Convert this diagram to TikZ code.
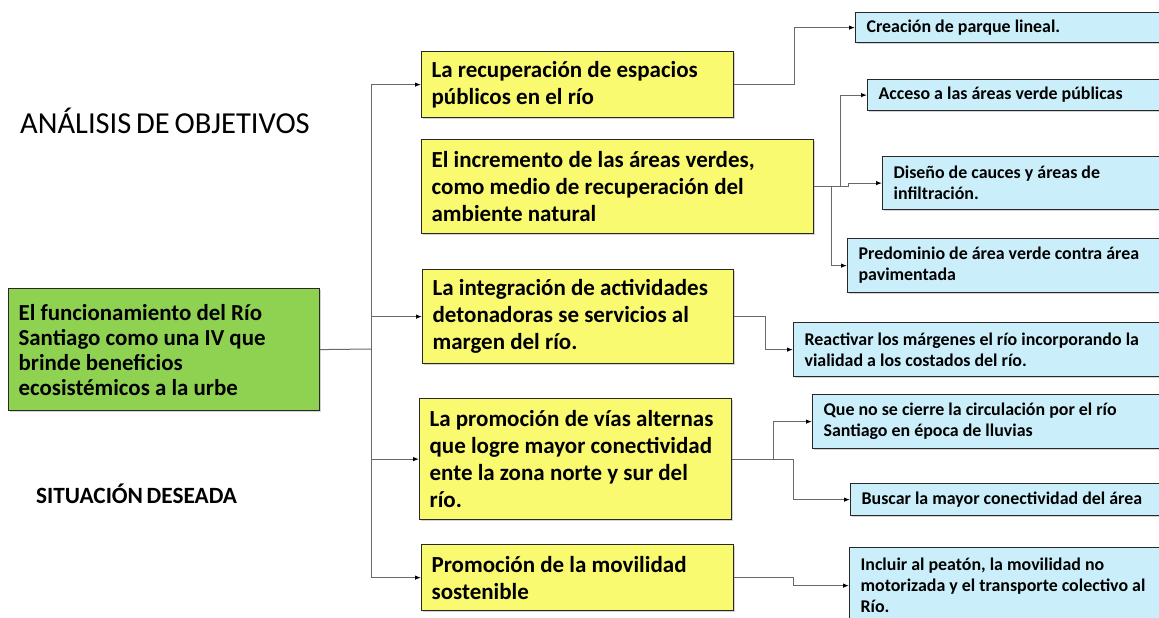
\documentclass[tikz,border=0pt]{standalone}
\usepackage{fontspec}
\setmainfont{Carlito}[WordSpace=0.7]
\usetikzlibrary{arrows.meta,shadows}
\definecolor{ylw}{RGB}{250,250,112}
\definecolor{grn}{RGB}{143,209,80}
\definecolor{blu}{RGB}{203,239,250}
\definecolor{conn}{RGB}{105,105,105}
\definecolor{edge}{RGB}{40,40,40}
\newcommand\myyfont{\bfseries\fontsize{23}{27}\selectfont}
\newcommand\mygfont{\bfseries\fontsize{22.9}{25}\selectfont}
\newcommand\mybfont{\bfseries\fontsize{17.9}{21}\selectfont}
\tikzset{
  box/.style={draw=edge, line width=1.2pt, anchor=north west, inner xsep=10pt, inner ysep=0pt,
    align=left, drop shadow={opacity=0.35, shadow xshift=1.5pt, shadow yshift=-1.5pt},
    execute at begin node={\spaceskip=0.226em plus 0.05em minus 0.03em\relax\hyphenpenalty=10000\relax}},
  ybox/.style={box, fill=ylw, font=\myyfont},
  gbox/.style={box, fill=grn, font=\mygfont},
  bbox/.style={box, fill=blu, inner xsep=11pt, font=\mybfont},
  conline/.style={draw=conn, line width=1pt},
  arr/.style={conline, -{Latex[length=6pt,width=4.5pt,color=black]}}
}
\begin{document}
\begin{tikzpicture}[x=1pt,y=-1pt]
\useasboundingbox (0,0) rectangle (1159,618);
\clip (0,0) rectangle (1159,618);
% titles
\node[anchor=base west, inner sep=0pt, font=\fontsize{30.5}{34}\selectfont] (title) at (20,133) {ANÁLISIS DE OBJETIVOS};
\node[anchor=base west, inner sep=0pt, font=\bfseries\fontsize{23.3}{26}\selectfont] (sit) at (36,503) {SITUACIÓN DESEADA};
% root
\node[gbox, minimum width=311pt, minimum height=122pt, text width=291pt] (G) at (8,288)
  {El funcionamiento del Río\\Santiago como una IV que\\brinde beneficios\\ecosistémicos a la urbe};
% objectives
\node[ybox, minimum width=312pt, minimum height=66pt, text width=292pt] (Y1) at (421,51)
  {La recuperación de espacios\\públicos en el río};
\node[ybox, minimum width=392pt, minimum height=94pt, text width=372pt] (Y2) at (421,139)
  {El incremento de las áreas verdes,\\como medio de recuperación del\\ambiente natural};
\node[ybox, minimum width=311pt, minimum height=94pt, text width=291pt] (Y3) at (422,269)
  {La integración de actividades\\detonadoras se servicios al\\margen del río.};
\node[ybox, minimum width=312pt, minimum height=121pt, text width=292pt] (Y4) at (419,398)
  {La promoción de vías alternas\\que logre mayor conectividad\\ente la zona norte y sur del\\río.};
\node[ybox, minimum width=312pt, minimum height=66pt, text width=292pt] (Y5) at (421,544)
  {Promoción de la movilidad\\sostenible};
% actions
\node[bbox, minimum width=312pt, minimum height=30pt, text width=290pt] (B1) at (855,12)
  {Creación de parque lineal.};
\node[bbox, minimum width=300pt, minimum height=31pt, text width=278pt] (B2) at (867,79)
  {Acceso a las áreas verde públicas};
\node[bbox, minimum width=285pt, minimum height=53pt, text width=263pt] (B3) at (882,156)
  {Diseño de cauces y áreas de\\infiltración.};
\node[bbox, minimum width=320pt, minimum height=54pt, text width=298pt] (B4) at (847,238)
  {Predominio de área verde contra área\\pavimentada};
\node[bbox, minimum width=374pt, minimum height=54pt, text width=352pt] (B5) at (793,322)
  {Reactivar los márgenes el río incorporando la\\vialidad a los costados del río.};
\node[bbox, minimum width=355pt, minimum height=54pt, text width=333pt] (B6) at (812,394)
  {Que no se cierre la circulación por el río\\Santiago en época de lluvias};
\node[bbox, minimum width=317pt, minimum height=32pt, text width=295pt] (B7) at (850,483)
  {Buscar la mayor conectividad del área};
\node[bbox, minimum width=318pt, minimum height=76pt, text width=296pt] (B8) at (849,547)
  {Incluir al peatón, la movilidad no\\motorizada y el transporte colectivo al\\Río.};
% connectors
\coordinate (T) at (371,349);
\draw[conline] (G.east) -- (T);
\draw[arr] (T) |- (Y1.west);
\draw[arr] (T) |- (Y3.west);
\draw[arr] (T) |- (Y4.west);
\draw[arr] (T) |- (Y5.west);
\draw[arr] (Y1.east) -- ++(60,0) |- (B1.west);
\draw[arr] (Y2.east) -- ++(26,0) |- (B2.west);
\draw[arr] (Y2.east) -- ++(34,0) |- (B3.west);
\draw[arr] (Y2.east) -- ++(17,0) |- (B4.west);
\draw[arr] (Y3.east) -- ++(31,0) |- (B5.west);
\draw[arr] (Y4.east) -- ++(41,0) |- (B6.west);
\draw[arr] (Y4.east) -- ++(61,0) |- (B7.west);
\draw[arr] (Y5.east) -- ++(59,0) |- (B8.west);
\end{tikzpicture}
\end{document}
